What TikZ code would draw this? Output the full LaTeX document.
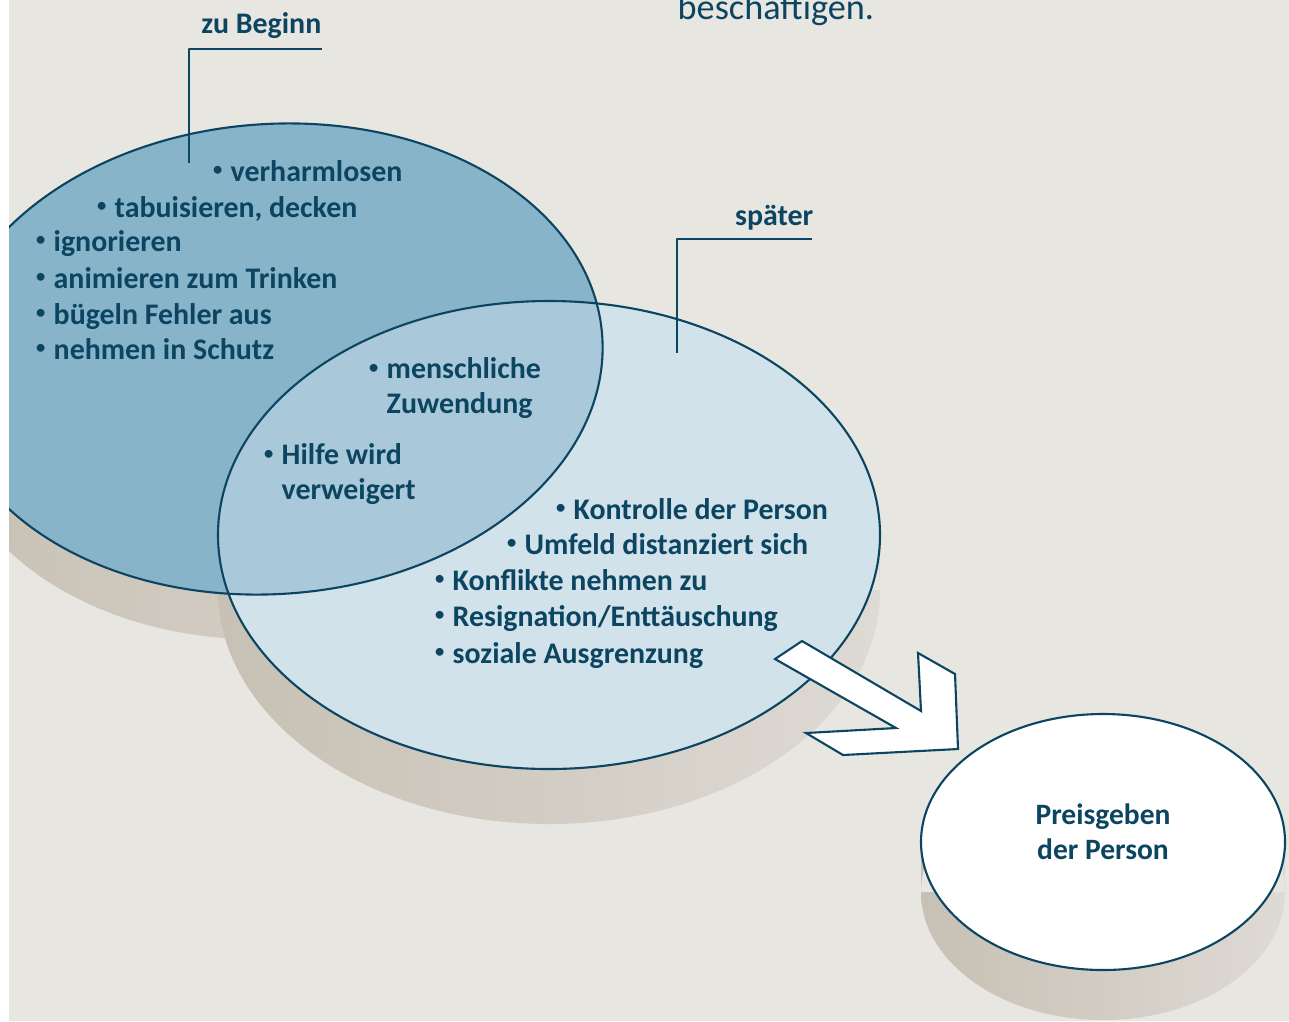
\documentclass[tikz,border=0pt]{standalone}
\usepackage{fontspec}
\setmainfont{Carlito}
\usetikzlibrary{positioning}
\definecolor{ink}{HTML}{0B4561}
\definecolor{papier}{HTML}{E8E6E1}
\definecolor{frueh}{HTML}{88B4CA}
\definecolor{mitte}{HTML}{A9C9DA}
\definecolor{spaet}{HTML}{D2E2EA}
\definecolor{schattenD}{HTML}{C7C0B4}
\definecolor{schattenH}{HTML}{DEDAD4}
\newcommand{\pkt}{\llap{\raisebox{0.35ex}{\scalebox{0.62}{\textbullet}}\hspace{2.4pt}}}
\begin{document}
\begin{tikzpicture}[x=0.01cm, y=-0.01cm, line join=round, line cap=round,
		font=\fontsize{8.5}{9.7}\selectfont\bfseries, text=ink,
		rand/.style={draw=ink, line width=0.6pt},
		leiter/.style={draw=ink, line width=0.6pt, line cap=butt},
		schatten/.style={left color=schattenD, right color=schattenH},
		punkt/.style={anchor=base west, inner sep=0pt, align=left},
		titel/.style={anchor=base east, inner sep=0pt}]
	\useasboundingbox (0,0) rectangle (1289,1021);
	\fill[papier] (9,0) rectangle (1289,1021);
	% Ellipsen: Mittelpunkt, Halbachsen, Tiefe
	\def\ax{273} \def\ay{359} \def\arx{330} \def\ary{235} \def\ad{45}
	\def\bx{549} \def\by{535} \def\brx{331} \def\bry{234} \def\bd{55}
	\def\cx{1103} \def\cy{842} \def\crx{182} \def\cry{128} \def\cd{50}
	% Schatten (Zylinder)
	\begin{scope}
		\clip (9,0) rectangle (1289,1021);
		\shade[schatten, rotate around={4:(\ax,\ay)}] (\ax,\ay+\ad) ellipse [x radius=\arx, y radius=\ary]
			(\ax-\arx,\ay) rectangle (\ax+\arx,\ay+\ad);
		\shade[schatten] (\bx,\by+\bd) ellipse [x radius=\brx, y radius=\bry]
			(\bx-\brx,\by) rectangle (\bx+\brx,\by+\bd);
		\shade[schatten] (\cx,\cy+\cd) ellipse [x radius=\crx, y radius=\cry]
			(\cx-\crx,\cy) rectangle (\cx+\crx,\cy+\cd);
		% Flaechen
		\fill[frueh, rotate around={4:(\ax,\ay)}] (\ax,\ay) ellipse [x radius=\arx, y radius=\ary];
		\fill[spaet] (\bx,\by) ellipse [x radius=\brx, y radius=\bry];
		\begin{scope}
			\clip[rotate around={4:(\ax,\ay)}] (\ax,\ay) ellipse [x radius=\arx, y radius=\ary];
			\fill[mitte] (\bx,\by) ellipse [x radius=\brx, y radius=\bry];
		\end{scope}
		\draw[rand, rotate around={4:(\ax,\ay)}] (\ax,\ay) ellipse [x radius=\arx, y radius=\ary];
		\draw[rand] (\bx,\by) ellipse [x radius=\brx, y radius=\bry];
	\end{scope}
	% Pfeil
	\draw[rand, fill=white, line cap=butt, line join=miter] (775,659) -- (802,641) -- (921,711) -- (918,653)
		-- (955,674) -- (958,749) -- (843,755) -- (806,733) -- (896,728) -- cycle;
	\draw[rand, fill=white] (\cx,\cy) ellipse [x radius=\crx, y radius=\cry];
	\node[align=center, inner sep=0pt, font=\fontsize{8.4}{10}\selectfont\bfseries] (preis) at (\cx,\cy-10)
		{Preisgeben\\der Person};
	% Ueberschriften
	\begin{scope}
		\clip (9,0) rectangle (1289,1021);
		\node[anchor=base west, inner sep=0pt, font=\fontsize{10.3}{12}\selectfont] (satz) at (677,19) {beschäftigen.};
	\end{scope}
	\node[titel] (beginn) at (322,33) {zu Beginn};
	\node[titel] (spaeter) at (814,225) {später};
	\coordinate (beginnecke) at (322,49);
	\coordinate (beginnfuss) at (189,163);
	\coordinate (spaeterecke) at (812,239);
	\coordinate (spaeterfuss) at (677,353);
	\draw[leiter] (beginnecke) -| (beginnfuss);
	\draw[leiter] (spaeterecke) -| (spaeterfuss);
	% Stichpunkte zu Beginn
	\node[punkt] (p1) at (230,181) {\pkt verharmlosen};
	\node[punkt] (p2) at (114,217) {\pkt tabuisieren, decken};
	\node[punkt] (p3) at (53,251) {\pkt ignorieren};
	\node[punkt] (p4) at (53,288) {\pkt animieren zum Trinken};
	\node[punkt] (p5) at (53,324) {\pkt bügeln Fehler aus};
	\node[punkt] (p6) at (53,359) {\pkt nehmen in Schutz};
	% Schnittmenge (Grundlinie der zweiten Zeile)
	\node[punkt] (m1) at (386,413) {\pkt menschliche\\Zuwendung};
	\node[punkt] (m2) at (281,499) {\pkt Hilfe wird\\verweigert};
	% Stichpunkte spaeter
	\node[punkt] (s1) at (573,519) {\pkt Kontrolle der Person};
	\node[punkt] (s2) at (524,554) {\pkt Umfeld distanziert sich};
	\node[punkt] (s3) at (452,590) {\pkt Konflikte nehmen zu};
	\node[punkt] (s4) at (452,626) {\pkt Resignation/Enttäuschung};
	\node[punkt] (s5) at (452,663) {\pkt soziale Ausgrenzung};
\end{tikzpicture}
\end{document}
